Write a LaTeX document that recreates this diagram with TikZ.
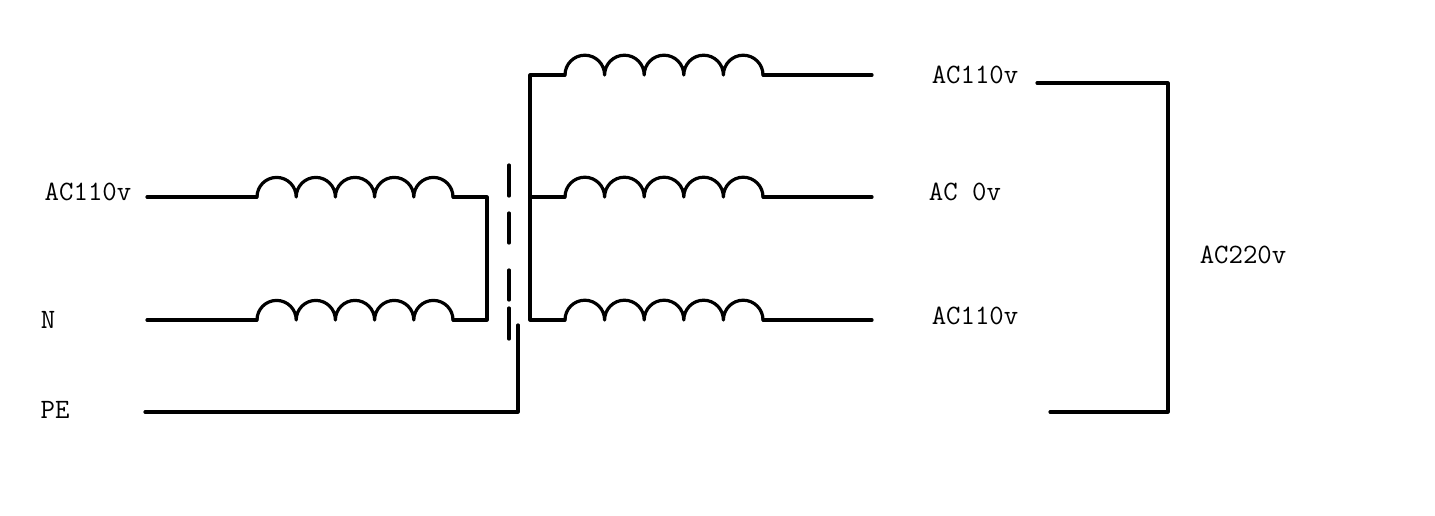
\documentclass[tikz,border=0pt]{standalone}
\begin{document}
\begin{tikzpicture}[x=1pt,y=-1pt,line width=3.2pt,
  wire/.style={line cap=round,line join=round},
  lbl/.style={font=\ttfamily\fontsize{28}{28}\selectfont,inner sep=0pt}]
\useasboundingbox (0,0) rectangle (1435,515);
\newcommand{\coilx}[3]{% start x, y, arch width
  \draw[wire] (#1,#2) arc[start angle=180,end angle=360,radius=#3/2]
    arc[start angle=180,end angle=360,radius=#3/2]
    arc[start angle=180,end angle=360,radius=#3/2]
    arc[start angle=180,end angle=360,radius=#3/2]
    arc[start angle=180,end angle=360,radius=#3/2];}
% primary
\coordinate (p1) at (147,197); \coordinate (p1e) at (487,197);
\coordinate (p2) at (147,320); \coordinate (p2e) at (487,320);
\draw[wire] (p1) -- (257,197); \coilx{257}{197}{39.2}
\draw[wire] (453,197) -- (p1e) -- (p2e) -- (453,320);
\draw[wire] (p2) -- (257,320); \coilx{257}{320}{39.2}
% core
\draw[line width=3.2pt,line cap=round] (509,165)--(509,196) (509,213)--(509,243) (509,270)--(509,300) (509,308)--(509,339);
% PE
\coordinate (pe) at (145,412); \coordinate (pet) at (518,325);
\draw[wire] (pe) -- (518,412) -- (pet);
% secondary
\coordinate (s1) at (530,75); \coordinate (s3) at (530,320);
\draw[wire] (565,75) -- (s1) -- (s3) -- (565,320);
\draw[wire] (530,197) -- (565,197);
\foreach \y in {75,197,320}{
  \coilx{565}{\y}{39.6}
  \draw[wire] (763,\y) -- (872,\y);
}
% bracket
\coordinate (b1) at (1037,83); \coordinate (b2) at (1050,412);
\draw[wire] (b1) -- (1168,83) -- (1168,412) -- (b2);
% labels
\node[lbl] (l1) at (88,192) {AC110v};
\node[lbl] (l2) at (48,320) {N};
\node[lbl] (l3) at (55,410) {PE};
\node[lbl] (r1) at (975,75) {AC110v};
\node[lbl] (r2) at (965,192) {AC 0v};
\node[lbl] (r3) at (975,316) {AC110v};
\node[lbl] (r4) at (1243,255) {AC220v};
\end{tikzpicture}
\end{document}
